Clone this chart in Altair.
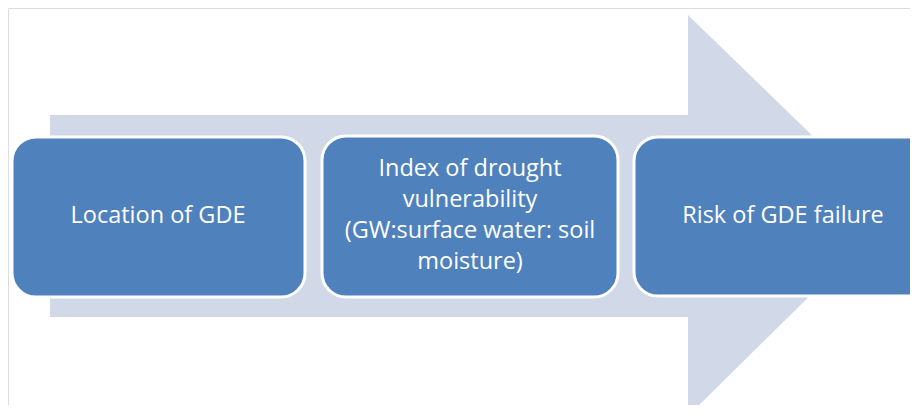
import altair as alt
import pandas as pd

# Diagram geometry (screen-pixel coordinates of the reference)
shaft_x1, shaft_x2 = [50], [688]
shaft_y1, shaft_y2 = [115], [317]
head_x = [688, 893]
head_top = [15, 214]
head_bottom = [416, 214]

box_labels = ["Location of GDE",
              "Index of drought\nvulnerability\n(GW:surface water: soil\nmoisture)",
              "Risk of GDE failure"]
box_x1 = [12, 322, 634]
box_x2 = [305, 618, 935]
box_y1 = [137, 136, 137]
box_y2 = [297, 297, 296]
text_cx = [158, 470, 783]
LINE_H = 31

shaft_df = pd.DataFrame({"x1": shaft_x1, "x2": shaft_x2, "y1": shaft_y1, "y2": shaft_y2})
head_df = pd.DataFrame({"hx": head_x, "ht": head_top, "hb": head_bottom})
box_df = pd.DataFrame({"label": box_labels, "x1": box_x1, "x2": box_x2,
                       "y1": box_y1, "y2": box_y2, "cx": text_cx})
box_df["lines"] = box_df["label"].str.split("\n")
box_df["cy"] = [(a + b) / 2 - (len(l) - 1) * LINE_H / 2 - 1
                for a, b, l in zip(box_y1, box_y2, box_df["lines"])]

xs = alt.Scale(domain=[8, 910], nice=False, zero=False)
ys = alt.Scale(domain=[8, 405], nice=False, zero=False, reverse=True)
ARROW = "#D1D9E8"

shaft = alt.Chart(shaft_df).mark_rect(color=ARROW).encode(
    x=alt.X("x1:Q", scale=xs, axis=None), x2="x2:Q",
    y=alt.Y("y1:Q", scale=ys, axis=None), y2="y2:Q",
)

head = alt.Chart(head_df).mark_area(color=ARROW, clip=True).encode(
    x=alt.X("hx:Q", scale=xs, axis=None),
    y=alt.Y("ht:Q", scale=ys, axis=None, stack=None),
    y2="hb:Q",
)

boxes = alt.Chart(box_df).mark_rect(
    color="#4F81BD", stroke="white", strokeWidth=3, cornerRadius=24, clip=True
).encode(
    x=alt.X("x1:Q", scale=xs, axis=None), x2="x2:Q",
    y=alt.Y("y1:Q", scale=ys, axis=None), y2="y2:Q",
)

texts = alt.Chart(box_df).mark_text(
    color="white", font="Open Sans", fontSize=23.5, lineHeight=LINE_H,
    align="center", baseline="middle"
).encode(
    x=alt.X("cx:Q", scale=xs, axis=None),
    y=alt.Y("cy:Q", scale=ys, axis=None),
    text="lines",
)

chart = alt.layer(shaft, head, boxes, texts).properties(
    width=902, height=397, padding=0, autosize=alt.AutoSizeParams(type="none")
).configure_view(strokeWidth=0, stroke="transparent").configure(background="white")

chart.save("out.html", embed_options={"renderer": "svg", "actions": False})
